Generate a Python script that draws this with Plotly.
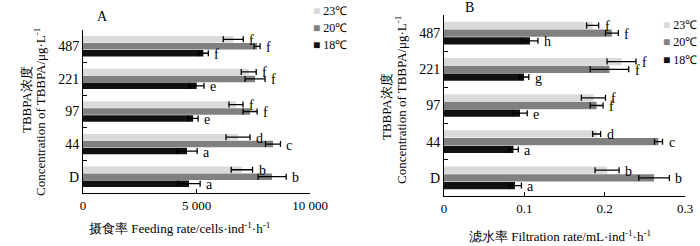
import plotly.graph_objects as go

categories = ["D", "44", "97", "221", "487"]
temps = ["18℃", "20℃", "23℃"]
colors = {"18℃": "#111111", "20℃": "#808080", "23℃": "#dadada"}

feed = {
    "18℃": [4670, 4580, 4850, 5010, 5300],
    "20℃": [8330, 8370, 7360, 7580, 7670],
    "23℃": [7000, 6830, 6740, 7300, 6620],
}
feed_err = {
    "18℃": [490, 450, 220, 320, 220],
    "20℃": [620, 330, 310, 440, 130],
    "23℃": [470, 530, 310, 330, 440],
}
feed_letters = {
    "18℃": ["a", "a", "e", "e", "f"],
    "20℃": ["b", "c", "f", "f", "f"],
    "23℃": ["b", "d", "f", "f", "f"],
}

filt = {
    "18℃": [0.0884, 0.0865, 0.0946, 0.0996, 0.107],
    "20℃": [0.2615, 0.267, 0.190, 0.206, 0.209],
    "23℃": [0.203, 0.190, 0.186, 0.221, 0.185],
}
filt_err = {
    "18℃": [0.008, 0.006, 0.009, 0.006, 0.010],
    "20℃": [0.019, 0.005, 0.008, 0.024, 0.008],
    "23℃": [0.015, 0.005, 0.015, 0.018, 0.0075],
}
filt_letters = {
    "18℃": ["a", "a", "e", "g", "h"],
    "20℃": ["b", "c", "f", "f", "f"],
    "23℃": ["b", "d", "f", "f", "f"],
}

feed_ticks = [0, 5000, 10000]
feed_ticktext = ["0", "5 000", "10 000"]
filt_ticks = [0, 0.1, 0.2, 0.3]
filt_ticktext = ["0", "0.1", "0.2", "0.3"]

W, H = 700, 246
FONT = "Liberation Serif, Times New Roman, serif"
BARGAP = 0.36

def px(x):
    return x / W

def py(y):
    return 1 - y / H

fig = go.Figure()

panels = [
    ("x", "y", feed, feed_err, feed_letters),
    ("x2", "y2", filt, filt_err, filt_letters),
]

annotations = []
slot = (1 - BARGAP) / 3
for xa, ya, vals, errs, letters in panels:
    for i, t in enumerate(temps):
        fig.add_trace(go.Bar(
            y=categories, x=vals[t], orientation="h", name=t,
            marker=dict(color=colors[t], line=dict(width=0)),
            error_x=dict(type="data", array=errs[t], visible=True,
                         color="black", thickness=1.3, width=3),
            xaxis=xa, yaxis=ya, showlegend=False,
        ))
        for k, (v, e, l) in enumerate(zip(vals[t], errs[t], letters[t])):
            annotations.append(dict(
                x=v + e, y=k + (i - 1) * slot, xref=xa, yref=ya, text=l,
                showarrow=False, xanchor="left", yanchor="middle", xshift=4,
                yshift=-1,
                font=dict(family=FONT, size=14, color="black"),
            ))

axis_common = dict(showline=True, linecolor="black", linewidth=1,
                   ticks="inside", ticklen=4, tickcolor="black",
                   showgrid=False, zeroline=False, automargin=False)

xfont = dict(family=FONT, size=13, color="black")
yfont = dict(family=FONT, size=14, color="black")

fig.update_layout(
    width=W, height=H,
    margin=dict(l=0, r=0, t=0, b=0, autoexpand=False),
    paper_bgcolor="white", plot_bgcolor="white",
    barmode="group", bargap=BARGAP, bargroupgap=0.06,
    showlegend=False,
    font=dict(family=FONT, size=13, color="black"),
    xaxis=dict(domain=[px(83), px(310)], range=[0, 10000],
               tickvals=feed_ticks, ticktext=feed_ticktext,
               anchor="y", tickfont=xfont, **axis_common),
    yaxis=dict(domain=[py(193), py(30)], type="category",
               categoryorder="array", categoryarray=categories,
               range=[-0.5, 4.5], autorange=False, tickfont=yfont,
               tickson="boundaries", anchor="x", **axis_common),
    xaxis2=dict(domain=[px(444), px(685)], range=[0, 0.3],
                tickvals=filt_ticks, ticktext=filt_ticktext,
                anchor="y2", tickfont=xfont, **axis_common),
    yaxis2=dict(domain=[py(196), py(15)], type="category",
                categoryorder="array", categoryarray=categories,
                range=[-0.5, 4.5], autorange=False, tickfont=yfont,
                tickson="boundaries", anchor="x2", **axis_common),
)

# compact legends (colour key built from the series names and colours)
legend_specs = [(311, 11, 17), (661, 25, 17.5)]
for lx, ly, step in legend_specs:
    for j, t in enumerate(reversed(temps)):
        annotations.append(dict(
            x=px(lx), y=py(ly + j * step), xref="paper", yref="paper",
            text=f"<span style='color:{colors[t]}'>■</span> {t}",
            showarrow=False, xanchor="left", yanchor="middle",
            font=dict(family=FONT, size=12, color="black"),
        ))

paper_text = [
    (103, 17, "A", 0, 14),
    (469, 8, "B", 0, 14),
    (26, 100, "TBBPA浓度", -90, 13),
    (40, 112, "Concentration of TBBPA/μg·L<sup>-1</sup>", -90, 13),
    (386, 106, "TBBPA浓度", -90, 13),
    (401, 100, "Concentration of TBBPA/μg·L<sup>-1</sup>", -90, 13),
    (180, 228, "摄食率 Feeding rate/cells·ind<sup>-1</sup>·h<sup>-1</sup>", 0, 13),
    (560, 236, "滤水率 Filtration rate/mL·ind<sup>-1</sup>·h<sup>-1</sup>", 0, 13),
]
for x, y, txt, ang, size in paper_text:
    annotations.append(dict(
        x=px(x), y=py(y), xref="paper", yref="paper", text=txt,
        textangle=ang, showarrow=False, xanchor="center", yanchor="middle",
        font=dict(family=FONT, size=size, color="black"),
    ))
fig.update_layout(annotations=annotations)

fig.write_html("out.html", config={"displayModeBar": False},
               post_script="document.body.style.margin='0';")
